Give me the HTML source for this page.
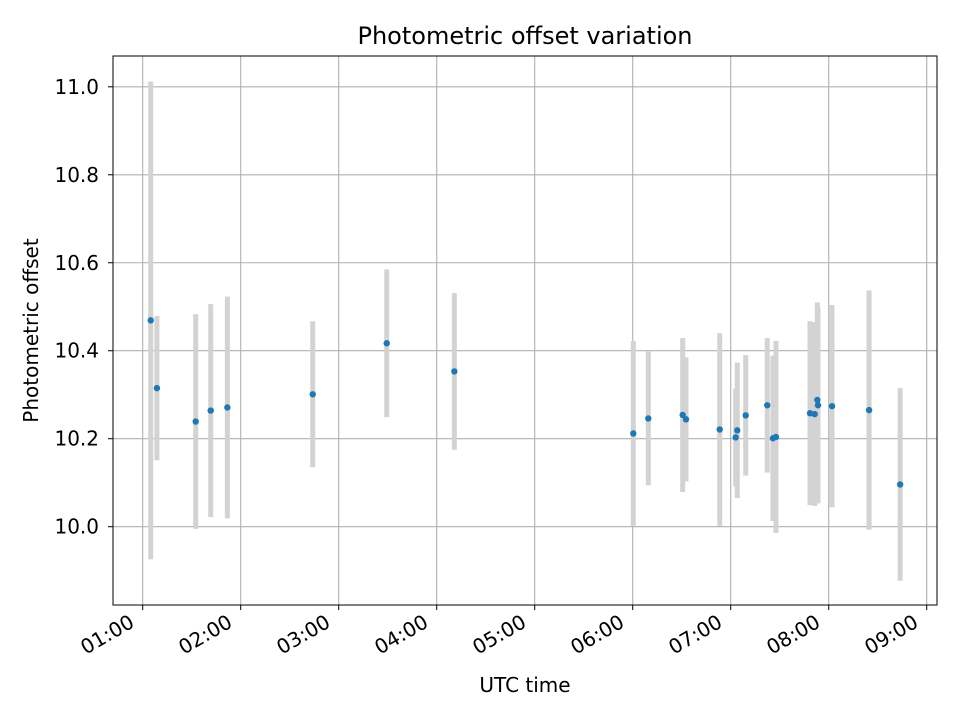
<!DOCTYPE html>
<html><head><meta charset="utf-8"><style>
body{margin:0;background:#fff;font-family:"Liberation Sans","DejaVu Sans",sans-serif}
svg text{font-family:"DejaVu Sans","Liberation Sans",sans-serif}
</style></head><body>
<svg id="chart" width="960" height="720" viewBox="0 0 960 720" xmlns="http://www.w3.org/2000/svg">
<rect width="960" height="720" fill="#fff"/>
<g id="grid"></g><g id="bars"></g><g id="pts"></g><g id="axes"></g>
</svg>
<script>
const hours=[1.082,1.145,1.541,1.694,1.864,2.735,3.49,4.18,6.006,6.159,6.51,6.544,6.888,7.051,7.067,7.153,7.373,7.431,7.462,7.809,7.857,7.884,7.891,8.034,8.412,8.729];
const values=[10.469,10.315,10.239,10.264,10.271,10.301,10.417,10.353,10.212,10.246,10.254,10.244,10.221,10.203,10.219,10.253,10.276,10.201,10.204,10.258,10.256,10.288,10.276,10.274,10.265,10.096];
const errors=[0.543,0.164,0.244,0.242,0.252,0.166,0.168,0.178,0.21,0.152,0.175,0.141,0.219,0.111,0.154,0.137,0.153,0.188,0.218,0.209,0.209,0.222,0.223,0.23,0.272,0.219];
const xTicks=[1,2,3,4,5,6,7,8,9];
const xTickLabels=["01:00","02:00","03:00","04:00","05:00","06:00","07:00","08:00","09:00"];
const yTicks=[10.0,10.2,10.4,10.6,10.8,11.0];
const yTickLabels=["10.0","10.2","10.4","10.6","10.8","11.0"];
const L=113,R=937,T=56,B=605;
const xMin=0.697,xMax=9.105,yMin=9.822,yMax=11.07;
const X=h=>L+(h-xMin)/(xMax-xMin)*(R-L);
const Y=v=>B-(v-yMin)/(yMax-yMin)*(B-T);
const NS="http://www.w3.org/2000/svg";
function mk(tag,parent,attrs){const e=document.createElementNS(NS,tag);for(const k in attrs)e.setAttribute(k,attrs[k]);document.getElementById(parent).appendChild(e);return e;}
xTicks.forEach((t,i)=>{
 const l=mk('line','grid',{x1:X(t),x2:X(t),y1:T,y2:B,stroke:'#b0b0b0','stroke-width':1.1});
 
 
 const tk=mk('line','axes',{x1:X(t),x2:X(t),y1:B,y2:B+5,stroke:'#000','stroke-width':1});
 
 
 const ax=X(t)-7,ay=B+21;
 const tx=mk('text','axes',{x:ax,y:ay,'font-size':20,'text-anchor':'end',transform:`rotate(-30 ${ax} ${ay})`});
 tx.textContent=xTickLabels[i];
 
 
});
yTicks.forEach((t,i)=>{
 const l=mk('line','grid',{x1:L,x2:R,y1:Y(t),y2:Y(t),stroke:'#b0b0b0','stroke-width':1.1});
 
 
 const tk=mk('line','axes',{x1:L-5,x2:L,y1:Y(t),y2:Y(t),stroke:'#000','stroke-width':1});
 
 
 const tx=mk('text','axes',{x:L-14,y:Y(t)+7,'font-size':20,'text-anchor':'end'});
 tx.textContent=yTickLabels[i];
 
 
});
hours.forEach((h,i)=>{
 const b=mk('line','bars',{x1:X(h),x2:X(h),y1:Y(values[i]+errors[i]),y2:Y(values[i]-errors[i]),stroke:'#d3d3d3','stroke-width':5});
 
 
 const c=mk('circle','pts',{cx:X(h),cy:Y(values[i]),r:3.2,fill:'#1f77b4'});
 
 
});
const fr=mk('rect','axes',{x:L,y:T,width:R-L,height:B-T,fill:'none',stroke:'#000','stroke-width':1});


const ti=mk('text','axes',{x:(L+R)/2,y:44,'font-size':24,'text-anchor':'middle'});
ti.textContent='Photometric offset variation';


const xl=mk('text','axes',{x:(L+R)/2,y:692,'font-size':20,'text-anchor':'middle'});
xl.textContent='UTC time';


const yl=mk('text','axes',{x:38,y:(T+B)/2,'font-size':20,'text-anchor':'middle',transform:`rotate(-90 38 ${(T+B)/2})`});
yl.textContent='Photometric offset';


</script>
</body></html>
